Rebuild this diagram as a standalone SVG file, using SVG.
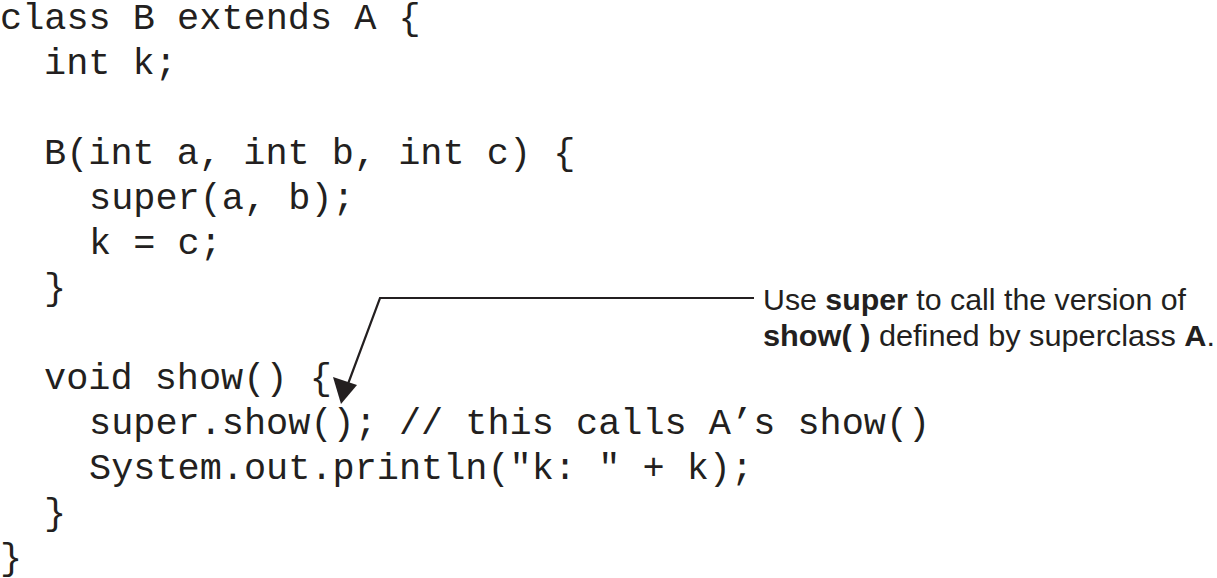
<svg xmlns="http://www.w3.org/2000/svg" width="1217" height="578" viewBox="0 0 1217 578">
<style>
.code{font-family:"Liberation Mono","Courier New",monospace;font-size:36.9px;fill:#231f20}
.note{font-family:"Liberation Sans",Arial,sans-serif;font-size:30px;fill:#231f20}
.b{font-weight:bold}
.conn{stroke:#231f20;stroke-width:2.2;fill:none}
</style>
<rect width="1217" height="578" fill="#ffffff"/>
<g id="code">
<text class="code" x="0" y="29">class B extends A {</text>
<text class="code" x="44" y="74">int k;</text>
<text class="code" x="44" y="164">B(int a, int b, int c) {</text>
<text class="code" x="89" y="209">super(a, b);</text>
<text class="code" x="89" y="254">k = c;</text>
<text class="code" x="44" y="299">}</text>
<text class="code" x="44" y="389">void show() {</text>
<text class="code" x="89" y="434">super.show(); // this calls A’s show()</text>
<text class="code" x="89" y="479">System.out.println("k: " + k);</text>
<text class="code" x="44" y="524">}</text>
<text class="code" x="0" y="569">}</text>
</g>
<g id="note">
<text class="note" x="763" y="310" textLength="423" lengthAdjust="spacingAndGlyphs">Use <tspan class="b">super</tspan> to call the version of</text>
<text class="note" x="763" y="346" textLength="452" lengthAdjust="spacingAndGlyphs"><tspan class="b">show( )</tspan> defined by superclass <tspan class="b">A</tspan>.</text>
</g>
<g id="connectors">
<path class="conn" d="M754,298 L380,298 L345,392"/>
<path d="M341,404 L333,377 L357,385 z" fill="#231f20"/>
</g>
</svg>
